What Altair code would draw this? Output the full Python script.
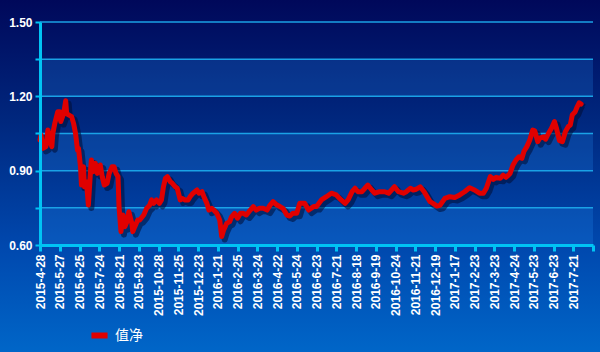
import json
import altair as alt
import pandas as pd

# ---- data ----
tick_labels = ["2015-4-28", "2015-5-27", "2015-6-25", "2015-7-24", "2015-8-21", "2015-9-23",
               "2015-10-28", "2015-11-25", "2015-12-23", "2016-1-21", "2016-2-25", "2016-3-24",
               "2016-4-22", "2016-5-24", "2016-6-23", "2016-7-21", "2016-8-18", "2016-9-19",
               "2016-10-24", "2016-11-21", "2016-12-19", "2017-1-17", "2017-2-23", "2017-3-23",
               "2017-4-24", "2017-5-23", "2017-6-23", "2017-7-21"]

day_index = [0, 1, 3, 6, 8, 10, 12, 13, 15, 18, 20, 21, 24, 26, 27, 29, 32, 34, 36, 38, 39, 41, 42, 44,
             45, 47, 49, 51, 52, 54, 56, 58, 61, 63, 65, 68, 70, 73, 75, 77, 79, 80, 82, 84, 86, 88,
             90, 93, 94, 96, 99, 101, 105, 108, 111, 113, 115, 118, 121, 123, 125, 127, 129, 132,
             134, 137, 139, 142, 144, 147, 150, 152, 155, 159, 161, 164, 166, 169, 171, 174, 176,
             179, 182, 184, 186, 189, 192, 194, 197, 200, 203, 206, 209, 213, 216, 219, 222, 226,
             230, 233, 236, 240, 243, 246, 250, 253, 256, 260, 263, 268, 272, 277, 280, 285, 290,
             295, 300, 305, 309, 312, 316, 319, 322, 326, 329, 332, 336, 339, 344, 349, 353, 356,
             359, 363, 368, 371, 375, 378, 381, 385, 389, 392, 395, 398, 402, 405, 410, 415, 420,
             425, 430, 435, 440, 445, 449, 452, 456, 459, 462, 466, 469, 472, 476, 479, 482, 485,
             488, 490, 493, 496, 499, 501, 504, 506, 510, 512, 515, 518, 521, 523, 526, 529, 532,
             535, 537, 539, 542, 544, 546, 548]

nav = [1.024, 1.044, 0.990, 0.997, 1.064, 1.017, 0.997, 1.050, 1.091, 1.138, 1.138, 1.098, 1.131,
       1.182, 1.131, 1.125, 1.118, 1.091, 1.050, 0.983, 0.990, 0.916, 0.842, 0.916, 0.835, 0.855,
       0.761, 0.889, 0.943, 0.896, 0.930, 0.889, 0.923, 0.876, 0.842, 0.849, 0.889, 0.916, 0.916,
       0.889, 0.876, 0.755, 0.654, 0.721, 0.674, 0.694, 0.734, 0.687, 0.654, 0.674, 0.701, 0.701,
       0.721, 0.748, 0.761, 0.782, 0.768, 0.782, 0.768, 0.782, 0.835, 0.869, 0.876, 0.855, 0.849,
       0.835, 0.829, 0.782, 0.788, 0.782, 0.782, 0.795, 0.809, 0.822, 0.809, 0.815, 0.795, 0.768,
       0.741, 0.748, 0.741, 0.728, 0.701, 0.634, 0.661, 0.687, 0.694, 0.714, 0.728, 0.708, 0.728,
       0.728, 0.721, 0.741, 0.755, 0.741, 0.748, 0.748, 0.741, 0.761, 0.775, 0.761, 0.755, 0.748,
       0.721, 0.717, 0.728, 0.728, 0.768, 0.768, 0.741, 0.755, 0.755, 0.782, 0.795, 0.809, 0.802,
       0.782, 0.768, 0.782, 0.815, 0.829, 0.815, 0.815, 0.829, 0.842, 0.822, 0.809, 0.815, 0.815,
       0.809, 0.822, 0.835, 0.815, 0.809, 0.815, 0.829, 0.822, 0.825, 0.835, 0.815, 0.795, 0.775,
       0.768, 0.757, 0.760, 0.788, 0.795, 0.792, 0.802, 0.815, 0.831, 0.822, 0.809, 0.809, 0.829,
       0.876, 0.865, 0.873, 0.869, 0.882, 0.873, 0.889, 0.923, 0.943, 0.956, 0.950, 0.977, 0.997,
       1.024, 1.064, 1.061, 1.017, 1.031, 1.037, 1.027, 1.051, 1.071, 1.098, 1.071, 1.021, 1.017,
       1.057, 1.078, 1.084, 1.125, 1.138, 1.158, 1.174, 1.169]

series_name = "值净"
grid_values = [0.60, 0.75, 0.90, 1.05, 1.20, 1.35, 1.50]
band_lo = [0.60, 0.90, 1.20]
band_hi = [0.75, 1.05, 1.35]

W, H = 553, 223
df = pd.DataFrame({"i": day_index, "v": nav, "s": [series_name] * len(nav)})
bands = pd.DataFrame({"lo": band_lo, "hi": band_hi})
grid = pd.DataFrame({"g": grid_values})

xscale = alt.Scale(domain=[0, 560], nice=False, zero=False)
yscale = alt.Scale(domain=[0.60, 1.50], nice=False, zero=False)
CYAN = "#00c4f4"

label_expr = json.dumps(tick_labels) + "[round(datum.value / 20)] || ''"

x_axis = alt.Axis(values=list(range(0, 561, 20)), labelExpr=label_expr, labelAngle=-90,
                  labelFont="Liberation Sans", labelFontWeight="bold", labelFontSize=12,
                  labelColor="white", labelPadding=3, tickColor=CYAN, tickSize=6,
                  tickWidth=3, domainColor=CYAN, domainWidth=3, grid=False, zindex=1,
                  labelOverlap=False, labelBound=False, labelFlush=False, title=None)
y_axis = alt.Axis(values=grid_values,
                  labelExpr="(round(datum.value*100) % 30 == 0) ? format(datum.value, '.2f') : ''",
                  labelFont="Liberation Sans", labelFontWeight="bold", labelFontSize=12,
                  labelColor="white", labelPadding=3, tickColor=CYAN, tickSize=5,
                  tickWidth=2, domainColor=CYAN, domainWidth=3, grid=False, zindex=1, title=None)

bg = alt.Chart(pd.DataFrame({"a": [0]})).mark_rect(
    color=alt.Gradient(gradient="linear", x1=0, x2=0, y1=0, y2=1,
                       stops=[alt.GradientStop(color="#00085a", offset=0),
                              alt.GradientStop(color="#00287f", offset=0.35),
                              alt.GradientStop(color="#0048ae", offset=0.7),
                              alt.GradientStop(color="#0066c8", offset=1)])
).encode(x=alt.value(-40), x2=alt.value(W + 7), y=alt.value(-22), y2=alt.value(H + 107))

band_layer = alt.Chart(bands).mark_rect(color="#2a9cff", opacity=0.2).encode(
    x=alt.value(0), x2=alt.value(W),
    y=alt.Y("lo:Q", scale=yscale, axis=y_axis), y2="hi:Q")

grid_layer = alt.Chart(grid).mark_rule(color="#1aa2e6", strokeWidth=1.5).encode(
    x=alt.value(0), x2=alt.value(W), y=alt.Y("g:Q", scale=yscale, axis=y_axis))

shadow = alt.Chart(df).mark_line(color="#000d33", opacity=0.55, strokeWidth=6,
                                 xOffset=3, yOffset=3, strokeJoin="round").encode(
    x=alt.X("i:Q", scale=xscale, axis=x_axis), y=alt.Y("v:Q", scale=yscale, axis=y_axis))

line = alt.Chart(df).mark_line(strokeWidth=5, strokeJoin="round", strokeCap="round").encode(
    x=alt.X("i:Q", scale=xscale, axis=x_axis),
    y=alt.Y("v:Q", scale=yscale, axis=y_axis),
    color=alt.Color("s:N", scale=alt.Scale(range=["#e00000"]), title=None,
                    legend=alt.Legend(orient="none", legendX=48, legendY=302, symbolType="stroke",
                                      symbolStrokeWidth=6, symbolSize=260, labelColor="white",
                                      labelFontSize=14, labelFont="Noto Sans CJK SC",
                                      labelFontWeight="normal")),
)

chart = alt.layer(bg, band_layer, grid_layer, shadow, line).properties(
    width=W, height=H,
    autosize=alt.AutoSizeParams(type="none"),
    padding={"left": 40, "top": 22, "right": 7, "bottom": 107},
).configure_view(stroke=None).configure(background="#0050b0")

chart.save("out.html", embed_options={"renderer": "svg", "actions": False})
